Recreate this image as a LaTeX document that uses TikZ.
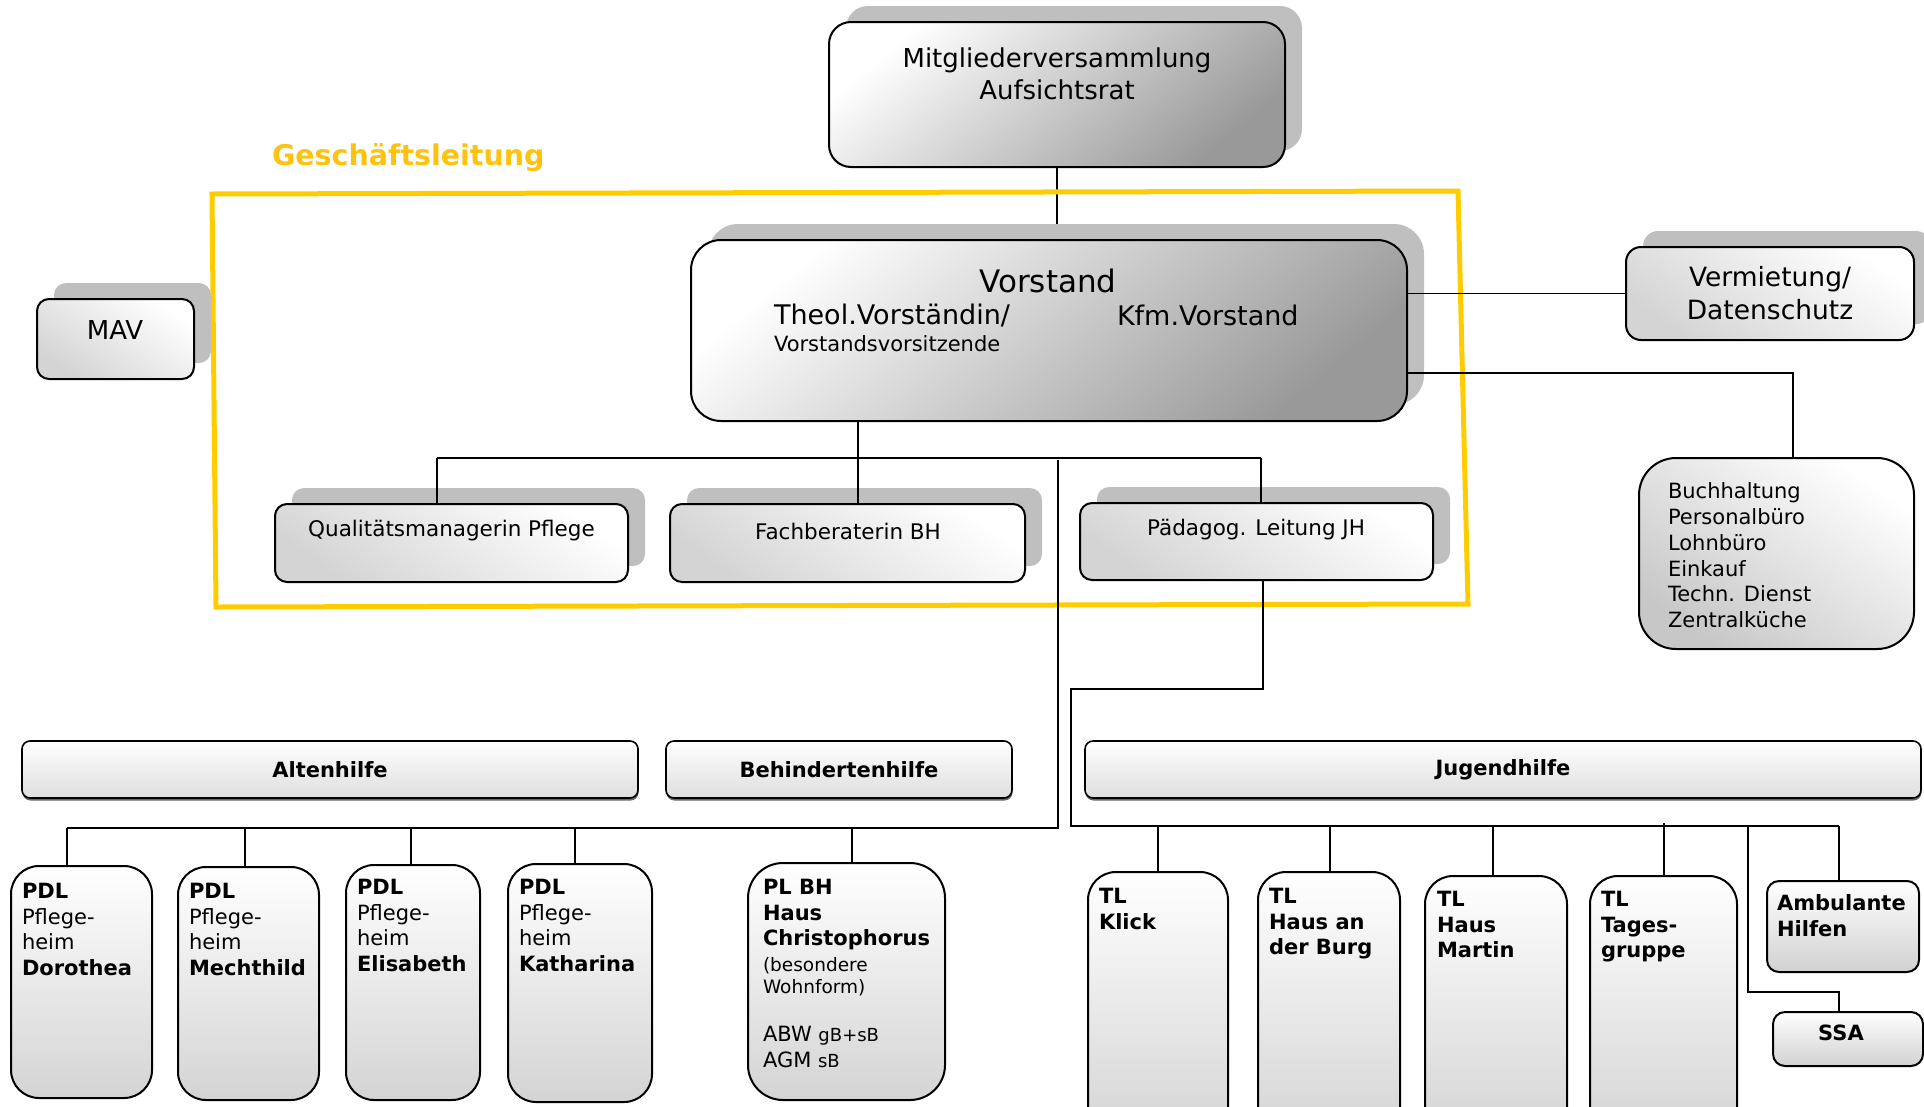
\documentclass[tikz,border=0pt]{standalone}
\usepackage{fontspec}
\setmainfont{DejaVu Sans}
\usetikzlibrary{shadows,backgrounds}
\definecolor{gelb}{HTML}{FFCC00}
\definecolor{gelbtext}{HTML}{FFC20E}
\definecolor{shadowgray}{HTML}{BFBFBF}
\newcommand\myfs[2]{\fontsize{#1}{#2}\selectfont}
\begin{document}
\begin{tikzpicture}[x=1pt,y=-1pt,
  every node/.style={inner sep=0pt, outer sep=0pt},
  conn/.style={line width=1.8pt, black},
  sh/.style={general shadow={fill=shadowgray, shadow xshift=17pt, shadow yshift=16pt}},
  boxbase/.style={draw=black, line width=2pt},
  darkbox/.style={boxbase, top color=white, bottom color=black!40, shading angle=40},
  lightbox/.style={boxbase, top color=white, bottom color=black!17, shading angle=-35},
  tallbox/.style={boxbase, top color=white, bottom color=black!17, rounded corners=28pt},
  smallbox/.style={boxbase, top color=white, bottom color=black!18, rounded corners=12pt},
  barbox/.style={boxbase, line width=1.6pt, top color=white, bottom color=black!13, rounded corners=8pt,
     general shadow={fill=black!60, shadow xshift=0.5pt, shadow yshift=-2.5pt}, font=\myfs{21}{25}\bfseries},
  txt/.style={align=left, anchor=north west, font=\myfs{21}{25.7}},
  lvl2/.style={lightbox, sh, rounded corners=12pt, minimum height=78pt},
]
\useasboundingbox (0,0) rectangle (1924,1106);
\clip (0,0) rectangle (1924,1106);

% Geschaeftsleitung frame
\draw[gelb, line width=5pt, line join=miter] (212,194) -- (1458,191) -- (1468,604) -- (216,607) -- cycle;
\node[font=\myfs{28.5}{34}\bfseries, text=gelbtext, anchor=west] (gl) at (272,158) {Geschäftsleitung};

% top boxes
\node[darkbox, sh, rounded corners=22pt, minimum width=456pt, minimum height=145pt] (mv) at (1057,94.5) {};
\node[font=\myfs{26}{32}, align=center] (mvt) at (1057,74) {Mitgliederversammlung\\Aufsichtsrat};

\node[darkbox, sh, rounded corners=30pt, minimum width=716pt, minimum height=181pt] (vs) at (1049,330.5) {};
\node[font=\myfs{31}{36}] (vst) at (1048,281) {Vorstand};
\node[font=\myfs{27}{32}, anchor=west] (vt1) at (774,315) {Theol.Vorständin/};
\node[font=\myfs{27}{32}, anchor=west] (vt2) at (1117,315) {Kfm.Vorstand};
\node[font=\myfs{21}{25}, anchor=west] (vt3) at (774,344) {Vorstandsvorsitzende};

\begin{pgfonlayer}{background}
\draw[conn] (mv.south) -- (mv.south |- vs.north);
\end{pgfonlayer}

\node[lightbox, sh, rounded corners=15pt, minimum width=288pt, minimum height=93pt] (vm) at (1770,293.5) {};
\node[font=\myfs{26.5}{33}, align=center] (vmt) at (1770,293.5) {Vermietung/\\Datenschutz};

\node[lightbox, bottom color=black!22, shading angle=-35, rounded corners=37pt, minimum width=275pt, minimum height=191pt] (bh) at (1776.5,553.5) {};
\node[txt] (bht) at (1668,483) {Buchhaltung\\Personalbüro\\Lohnbüro\\Einkauf\\Techn. Dienst\\Zentralküche};

\node[lightbox, sh, rounded corners=12pt, minimum width=157pt, minimum height=80pt] (mav) at (115.5,339) {};
\node[font=\myfs{26}{31}] (mavt) at (115,330) {MAV};

% level 2
\node[lvl2, minimum width=353pt] (qm) at (451.5,543) {};
\node[lvl2, minimum width=355pt] (fb) at (847.5,543) {};
\node[lvl2, minimum width=353pt, minimum height=77pt] (pl) at (1256.5,541.5) {};
\node[font=\myfs{21.5}{26}] (qmt) at (451.5,531) {Qualitätsmanagerin Pflege};
\node[font=\myfs{21.5}{26}] (fbt) at (848,531) {Fachberaterin BH};
\node[font=\myfs{21.5}{26}] (plt) at (1256,530) {Pädagog. Leitung JH};

% connectors upper part
\draw[conn] (vs.east |- vm.west) -- (vm.west);
\coordinate (j1) at (1793,373);
\draw[conn] (vs.east |- j1) -| (bh.north -| j1);
\coordinate (busL) at (437,458);
\coordinate (busM) at (858,458);
\coordinate (busR) at (1261,458);
\draw[conn] (vs.south -| busM) -- (busM);
\draw[conn] (busL) -- (busR);
\draw[conn] (busL) -- (qm.north -| busL);
\draw[conn] (busM) -- (fb.north -| busM);
\draw[conn] (busR) -- (pl.north -| busR);

% category bars
\node[barbox, minimum width=616pt, minimum height=57pt] (ah) at (330,769.5) {Altenhilfe};
\node[barbox, minimum width=346pt, minimum height=57pt] (beh) at (839,769.5) {Behindertenhilfe};
\node[barbox, minimum width=836pt, minimum height=57pt] (jh) at (1503,769.5) {Jugendhilfe};

% bottom boxes
\node[tallbox, minimum width=141pt, minimum height=232pt] (doro) at (81.5,982) {};
\node[tallbox, minimum width=141pt, minimum height=233pt] (mech) at (248.5,983.5) {};
\node[tallbox, minimum width=134pt, minimum height=235pt] (elis) at (413,982.5) {};
\node[tallbox, minimum width=144pt, minimum height=238pt] (kath) at (580,983) {};
\node[tallbox, rounded corners=35pt, minimum width=197pt, minimum height=237pt] (chri) at (846.5,981.5) {};
\node[tallbox, minimum width=140pt, minimum height=268pt] (klick) at (1158,1006) {};
\node[tallbox, minimum width=142pt, minimum height=268pt] (burg) at (1329,1006) {};
\node[tallbox, minimum width=142pt, minimum height=264pt] (mart) at (1496,1008) {};
\node[tallbox, minimum width=147pt, minimum height=264pt] (tage) at (1663.5,1008) {};
\node[smallbox, minimum width=152pt, minimum height=91pt] (amb) at (1843,926.5) {};
\node[smallbox, minimum width=150pt, minimum height=54pt] (ssa) at (1848,1039) {};
\node[font=\myfs{21}{25}\bfseries] (ssat) at (1841,1033) {SSA};

\node[txt] (t1) at (22,883) {\textbf{PDL}\\Pflege-\\heim\\\textbf{Dorothea}};
\node[txt] (t2) at (189,883) {\textbf{PDL}\\Pflege-\\heim\\\textbf{Mechthild}};
\node[txt] (t3) at (357,879) {\textbf{PDL}\\Pflege-\\heim\\\textbf{Elisabeth}};
\node[txt] (t4) at (519,879) {\textbf{PDL}\\Pflege-\\heim\\\textbf{Katharina}};
\node[txt] (t5) at (763,879) {\textbf{PL BH}\\\textbf{Haus}\\\textbf{Christophorus}};
\node[txt, font=\myfs{18.5}{22}] (t6) at (763,957) {(besondere\\Wohnform)};
\node[txt, font=\myfs{21}{26}] (t7) at (763,1026) {ABW {\myfs{18}{22}gB+sB}\\AGM {\myfs{18}{22}sB}};
\node[txt, font=\myfs{21}{25.7}\bfseries] (t8) at (1099,888) {TL\\Klick};
\node[txt, font=\myfs{21}{25.7}\bfseries] (t9) at (1269,888) {TL\\Haus an\\der Burg};
\node[txt, font=\myfs{21}{25.7}\bfseries] (t10) at (1437,891) {TL\\Haus\\Martin};
\node[txt, font=\myfs{21}{25.7}\bfseries] (t11) at (1601,891) {TL\\Tages-\\gruppe};
\node[txt, font=\myfs{21}{25.7}\bfseries] (t12) at (1777,895) {Ambulante\\Hilfen};

% connectors lower part
\coordinate (vt) at (1058,460);
\coordinate (ahR) at (1058,828);
\coordinate (ahL) at (67,828);
\draw[conn] (vt) -- (ahR) -- (ahL);
\coordinate (d2) at (245,828);
\coordinate (d3) at (411,828);
\coordinate (d4) at (575,828);
\coordinate (d5) at (852,828);
\draw[conn] (ahL) -- (doro.north -| ahL);
\draw[conn] (d2) -- (mech.north -| d2);
\draw[conn] (d3) -- (elis.north -| d3);
\draw[conn] (d4) -- (kath.north -| d4);
\draw[conn] (d5) -- (chri.north -| d5);

\coordinate (jA) at (1263,689);
\coordinate (jB) at (1071,689);
\coordinate (jC) at (1071,826);
\coordinate (jD) at (1839,826);
\draw[conn] (pl.south -| jA) -- (jA) -- (jB) -- (jC) -- (jD);
\coordinate (k1) at (1158,826);
\coordinate (k2) at (1330,826);
\coordinate (k3) at (1493,826);
\coordinate (k4) at (1664,823);
\coordinate (s1) at (1748,826);
\coordinate (s2) at (1748,992);
\coordinate (s3) at (1839,992);
\draw[conn] (k1) -- (klick.north -| k1);
\draw[conn] (k2) -- (burg.north -| k2);
\draw[conn] (k3) -- (mart.north -| k3);
\draw[conn] (k4) -- (tage.north -| k4);
\draw[conn] (s1) -- (s2) -- (s3) -- (ssa.north -| s3);
\draw[conn] (jD) -- (amb.north -| jD);
\end{tikzpicture}
\end{document}
